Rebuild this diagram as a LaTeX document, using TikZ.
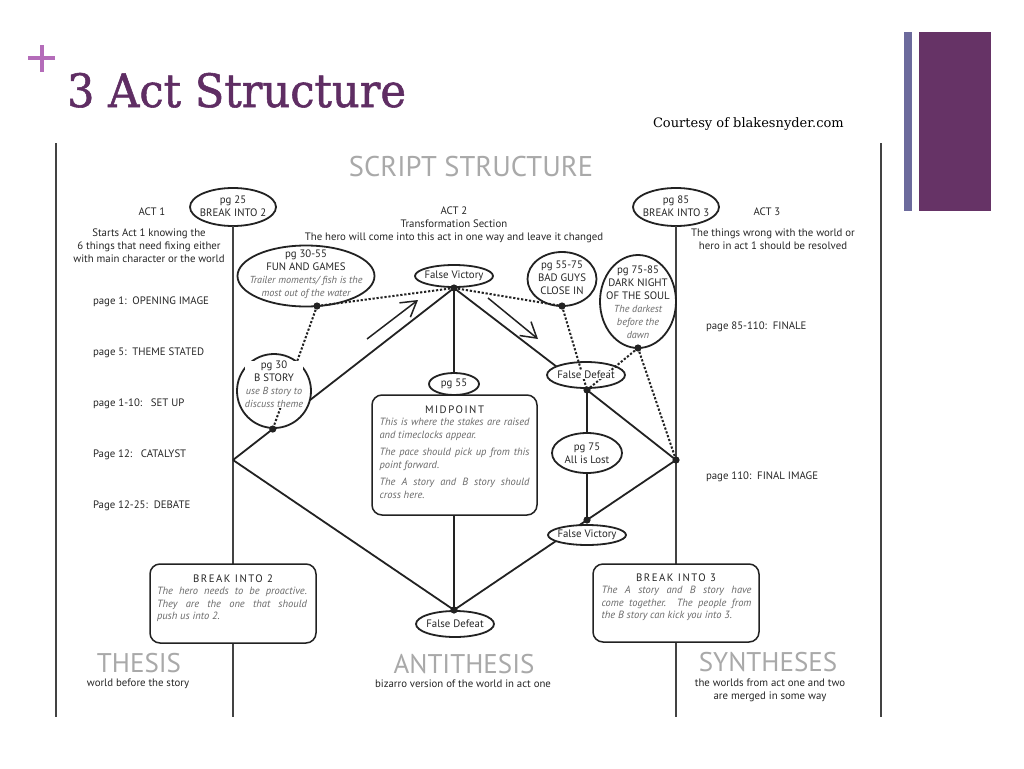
\documentclass[tikz,border=0pt]{standalone}
\usepackage{fontspec}
\setmainfont{PT Sans}
\newfontfamily\slabfont[FakeBold=1.2]{DejaVu Serif}
\newfontfamily\slabtext{DejaVu Serif}
\usetikzlibrary{shapes.geometric,arrows.meta,calc}
\definecolor{ttl}{HTML}{5F2D63}
\definecolor{plusc}{HTML}{B46CB9}
\definecolor{barthin}{HTML}{6C6A9C}
\definecolor{barthick}{HTML}{663366}
\definecolor{ink}{HTML}{222222}
\definecolor{txt}{HTML}{262626}
\definecolor{itc}{HTML}{6A6A6A}
\definecolor{headg}{HTML}{A9A9A9}
\newcommand{\gtx}[1]{{\fontsize{10.2}{13}\selectfont\itshape\color{itc}#1}}
\begin{document}
\begin{tikzpicture}[x=1pt,y=-1pt,
  every node/.style={inner sep=0pt, outer sep=0pt},
  lbl/.style={font=\fontsize{10.8}{13}\selectfont, text=txt, align=center},
  ltxt/.style={font=\fontsize{10.8}{13}\selectfont, text=txt, anchor=west},
  shp/.style={ellipse, draw=ink, line width=1.8pt, fill=white},
  box/.style={draw=ink, line width=1.5pt, fill=white, rounded corners=10pt},
  conn/.style={draw=ink, line width=1.8pt},
  actline/.style={draw=ink!85, line width=1.4pt},
  dotline/.style={draw=ink, line width=2pt, dash pattern=on 2.2pt off 1.8pt},
  arr/.style={draw=ink, line width=1.5pt, -{Straight Barb[length=15pt,width=18pt]}},
  big/.style={font=\fontsize{27}{27}\selectfont, text=headg},
  boxtitle/.style={font=\fontsize{10.8}{13}\selectfont\addfontfeature{LetterSpace=14}, text=txt},
  boxbody/.style={font=\fontsize{10.5}{12.7}\selectfont\itshape, text=itc, text width=150pt, align=justify},
]
\useasboundingbox (0,0) rectangle (1024,768);
\fill[white] (0,0) rectangle (1024,768);

% slide decoration
\fill[barthin] (904,32) rectangle (912,211);
\fill[barthick] (919,32) rectangle (991,211);
\fill[plusc] (28,56) rectangle (55,60);
\fill[plusc] (40,45) rectangle (44,72);
\node[anchor=base west, text=ttl, font=\slabfont\fontsize{46}{46}\selectfont] (title) at (67,107) {\scalebox{0.94}[1]{3 Act Structure}};
\node[anchor=base west, font=\slabtext\fontsize{13}{13}\selectfont, text=black] (court) at (653,127) {Courtesy of blakesnyder.com};

% frame
\coordinate (fl1) at (56,143); \coordinate (fl2) at (56,717);
\coordinate (fr1) at (881,143); \coordinate (fr2) at (881,717);
\draw[actline] (fl1) -- (fl2);
\draw[actline] (fr1) -- (fr2);

\node[big, font=\fontsize{28.5}{28}\selectfont] (hdr) at (471,167) {SCRIPT STRUCTURE};

% key points
\coordinate (v1) at (233,460);
\coordinate (v2) at (676,460);
\coordinate (fvd) at (454,288);
\coordinate (fdd) at (587,390);
\coordinate (fvl) at (587,520);
\coordinate (fdb) at (454,610);
\coordinate (fund) at (317,306);
\coordinate (badd) at (562,306);
\coordinate (darkd) at (638,348);
\coordinate (bstd) at ($(v1)!0.18!(fvd)$);
\coordinate (l1b) at (233,717);
\coordinate (l2b) at (676,717);

% top act ellipses
\node[shp, minimum width=86pt, minimum height=38pt] (pg25) at (233,207) {};
\node[shp, minimum width=86pt, minimum height=38pt] (pg85) at (676,207) {};

% act lines
\draw[actline] (pg25.south) -- (l1b);
\draw[actline] (pg85.south) -- (l2b);

% solid connectors
\draw[conn] (v1) -- (fvd);
\draw[conn] (v1) -- (fdb);
\draw[conn] (fvd) -- (fdb);
\draw[conn] (fvd) -- (fdd);
\draw[conn] (fdd) -- (v2);
\draw[conn] (v2) -- (fvl);
\draw[conn] (fdd) -- (fvl);
\draw[conn] (fvl) -- (fdb);

% shapes
\node[shp, minimum width=137pt, minimum height=61pt] (fun) at (306,276) {};
\node[shp, minimum width=78pt, minimum height=22pt] (fv) at (454,276) {};
\node[shp, minimum width=69pt, minimum height=54pt] (bad) at (562,279) {};
\node[shp, minimum width=76pt, minimum height=93pt] (dark) at (638,301.5) {};
\node[shp, minimum width=74pt, minimum height=74pt] (bst) at (274,391) {};
\node[shp, minimum width=78pt, minimum height=26pt] (fdr) at (586,375) {};
\node[box, minimum width=165pt, minimum height=120pt] (mid) at (454.5,455) {};
\node[shp, minimum width=50pt, minimum height=22pt] (pg55) at (454,384) {};
\node[shp, minimum width=70pt, minimum height=40pt] (pg75) at (587,453) {};
\node[shp, minimum width=78pt, minimum height=20pt] (fvlo) at (587,535) {};
\node[shp, minimum width=78pt, minimum height=26pt] (fdbo) at (455,624) {};
\node[box, minimum width=166pt, minimum height=79pt] (b2) at (233,603.5) {};
\node[box, minimum width=166pt, minimum height=78pt] (b3) at (676,603) {};

% dotted connectors
\draw[dotline] (fund) -- (fvd);
\draw[dotline] (fvd) -- (badd);
\draw[dotline] (fund) -- (bstd);
\draw[dotline] (badd) -- (fdd);
\draw[dotline] (darkd) -- (fdd);
\draw[dotline] (darkd) -- (v2);

% shape texts
\node[lbl] (pg25t) at (233,206) {pg 25\\BREAK INTO 2};
\node[lbl] (pg85t) at (676,206) {pg 85\\BREAK INTO 3};
\node[lbl] (funt) at (306,274.5) {pg 30-55\\FUN AND GAMES\\\gtx{Trailer moments/ fish is the}\\\gtx{most out of the water}};
\node[lbl] (fvt) at (454,275.5) {False Victory};
\node[lbl] (badt) at (562,277.5) {pg 55-75\\BAD GUYS\\CLOSE IN};
\node[lbl] (darkt) at (638,302) {pg 75-85\\DARK NIGHT\\OF THE SOUL\\\gtx{The darkest}\\\gtx{before the}\\\gtx{dawn}};
\node[lbl, fill=white] (bstt) at (274,384.5) {pg 30\\B STORY\\\gtx{use B story to}\\\gtx{discuss theme}};
\node[lbl, fill=white] (fdrt) at (586,375) {False Defeat};
\node[lbl] (pg55t) at (454,384) {pg 55};
\node[lbl] (pg75t) at (587,453) {pg 75\\All is Lost};
\node[lbl] (fvlot) at (587,535) {False Victory};
\node[lbl] (fdbot) at (455,624) {False Defeat};

\node[boxtitle] (midt) at (454.5,410) {MIDPOINT};
\node[boxbody, anchor=north] (midb) at (454.5,418.5) {This is where the stakes are raised\linebreak and timeclocks appear.\par\vspace{4.3pt}The pace should pick up from this\linebreak point forward.\par\vspace{4.3pt}The A story and B story should\linebreak cross here.};
\node[boxtitle] (b2t) at (233,579) {BREAK INTO 2};
\node[boxbody] (b2b) at (232,604.5) {The hero needs to be proactive.\linebreak They are the one that should\linebreak push us into 2.};
\node[boxtitle] (b3t) at (676,578) {BREAK INTO 3};
\node[boxbody] (b3b) at (676.5,603.5) {The A story and B story have\linebreak come together.\ \ The people from\linebreak the B story can kick you into 3.};

% dots
\foreach \p in {fvd,fdd,fvl,fdb,fund,badd,darkd,bstd,v2}
  \fill[ink] (\p) circle (3.6);

% arrows
\coordinate (a1s) at (367,339); \coordinate (a1e) at (418,300);
\coordinate (a2s) at (488,298); \coordinate (a2e) at (538,339);
\draw[arr] (a1s) -- (a1e);
\draw[arr] (a2s) -- (a2e);

% labels
\node[lbl] (act1) at (152,212) {ACT 1};
\node[lbl] (act3) at (767,212) {ACT 3};
\node[lbl] (act1d) at (149,246) {Starts Act 1 knowing the\\6 things that need fixing either\\with main character or the world};
\node[lbl] (act2) at (454,225) {ACT 2\\Transformation Section\\The hero will come into this act in one way and leave it changed};
\node[lbl] (act3d) at (773,239) {The things wrong with the world or\\hero in act 1 should be resolved};

\node[ltxt] (p1) at (93,302) {page 1:\ \ OPENING IMAGE};
\node[ltxt] (p5) at (93,353) {page 5:\ \ THEME STATED};
\node[ltxt] (p10) at (93,404) {page 1-10:\ \ \ SET UP};
\node[ltxt] (p12) at (93,455) {Page 12:\ \ \ CATALYST};
\node[ltxt] (p25) at (93,506) {Page 12-25:\ \ DEBATE};
\node[ltxt] (p85) at (706,327) {page 85-110:\ \ FINALE};
\node[ltxt] (p110) at (706,477) {page 110:\ \ FINAL IMAGE};

\node[big] (thesis) at (139,663) {THESIS};
\node[lbl] (thesisd) at (138,684) {world before the story};
\node[big] (anti) at (464,664) {ANTITHESIS};
\node[lbl] (antid) at (463,684) {bizarro version of the world in act one};
\node[big] (synth) at (768,662) {SYNTHESES};
\node[lbl] (synthd) at (770,690.5) {the worlds from act one and two\\are merged in some way};
\end{tikzpicture}
\end{document}
